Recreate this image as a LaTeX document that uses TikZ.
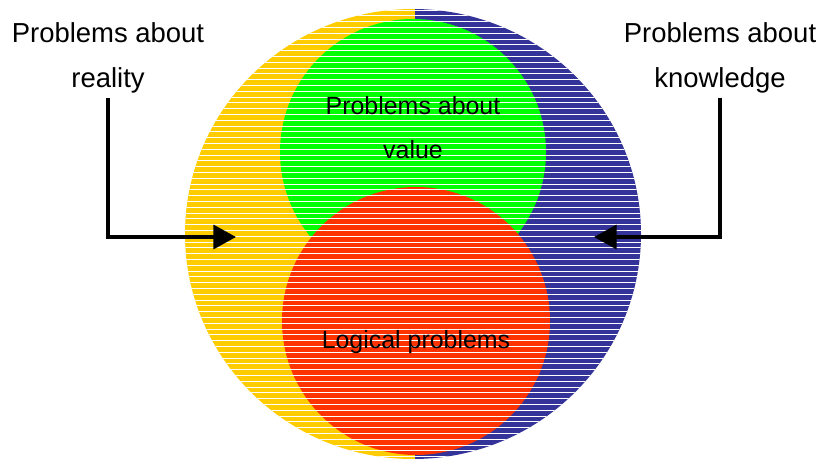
\documentclass[tikz,border=0pt]{standalone}
\usepackage{fontspec}
\setmainfont{Liberation Sans}
\usetikzlibrary{arrows.meta}
\definecolor{gold}{HTML}{FFCC00}
\definecolor{navy}{HTML}{333399}
\definecolor{leaf}{HTML}{00FF00}
\definecolor{tomato}{HTML}{FF3300}
\tikzset{
  outer/.style={font=\fontsize{20.6pt}{24pt}\selectfont},
  inner/.style={font=\fontsize{18.7pt}{22pt}\selectfont},
  pointer/.style={->,line width=2.6pt}
}
\begin{document}
\begin{tikzpicture}[x=0.75pt,y=-0.75pt,>={Triangle[length=17pt,width=18pt]}]
\useasboundingbox (0,0) rectangle (820,459);

\begin{scope}
\clip (413,234) ellipse [x radius=228, y radius=225];
\fill[gold] (180,0) rectangle (415,462);
\fill[navy] (415,0) rectangle (645,462);
\fill[leaf] (413,152) circle [radius=133];
\fill[tomato] (416,321) circle [radius=134];
% white stripes
\foreach \y in {10,15.8,...,460}
{
    \draw[white,line width=0.7pt] (180,\y)--(645,\y);
}
\end{scope}

\node[inner] (value1) at (413,106) {Problems about};
\node[inner] (value) at (413,150) {value};
\node[inner] (logic) at (416,342) {Logical problems};

\node[outer] (reality1) at (108,33) {Problems about};
\node[outer] (reality) at (108,80) {reality};
\node[outer] (knowledge1) at (720,33) {Problems about};
\node[outer] (knowledge) at (720,80) {knowledge};

\coordinate (lefttip) at (236,237);
\coordinate (righttip) at (594,237);
\draw[pointer] (reality.south) |- (lefttip);
\draw[pointer] (knowledge.south) |- (righttip);

\end{tikzpicture}
\end{document}
